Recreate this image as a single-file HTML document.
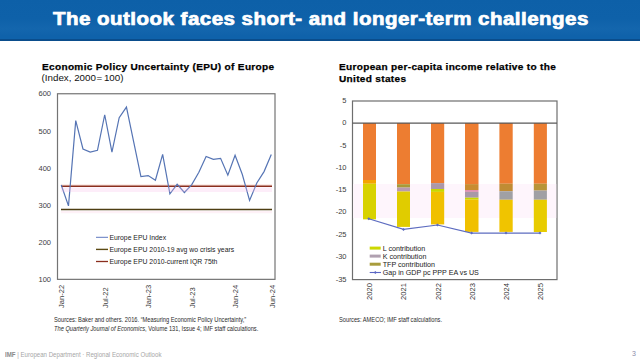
<!DOCTYPE html>
<html><head><meta charset="utf-8">
<style>
html,body{margin:0;padding:0;background:#fff;}
body{width:640px;height:360px;position:relative;overflow:hidden;font-family:"Liberation Sans",sans-serif;}
.hdr{position:absolute;left:0;top:0;width:640px;height:41.4px;background:linear-gradient(180deg,#0d60a8 0%,#0e61a9 45%,#1466ad 70%,#0f62aa 88%);}
.hdrline{position:absolute;left:0;top:39.4px;width:640px;height:2px;background:#0a4d8c;}
.ttl{position:absolute;left:52.7px;top:6.2px;color:#fff;font-weight:bold;font-size:18px;line-height:26px;white-space:nowrap;transform-origin:0 0;transform:scaleX(1.14);letter-spacing:0.41px;-webkit-text-stroke:0.7px #fff;}
.t{position:absolute;white-space:nowrap;color:#000;}
.ct{font-weight:bold;font-size:9.5px;letter-spacing:0.3px;line-height:12px;transform:scaleX(1.06);transform-origin:0 0;-webkit-text-stroke:0.25px #000;}
svg{position:absolute;left:0;top:0;}
</style></head><body>
<div class="hdr"></div>
<div class="hdrline"></div>
<div class="ttl" id="ttl">The outlook faces short- and longer-term challenges</div>

<div class="t ct" style="left:42px;top:61px;">Economic Policy Uncertainty (EPU) of Europe</div>
<div class="t" style="left:41.5px;top:72.4px;font-size:9.8px;line-height:12px;color:#111;">(Index, 2000<span style="margin:0 1.6px 0 0.6px">=</span>100)</div>

<div class="t ct" style="left:338.5px;top:61px;">European per-capita income relative to the</div>
<div class="t ct" style="left:338.5px;top:73px;">United states</div>

<svg width="640" height="360" viewBox="0 0 640 360" font-family="Liberation Sans">
  <!-- LEFT CHART -->
  <rect x="57.5" y="93.75" width="217.5" height="185.6" fill="none" stroke="#747474" stroke-width="1.2"/>
  <g font-size="7.5" fill="#404040" text-anchor="end">
    <text x="51" y="96.2">600</text>
    <text x="51" y="133.6">500</text>
    <text x="51" y="170.7">400</text>
    <text x="51" y="207.8">300</text>
    <text x="51" y="245">200</text>
    <text x="51" y="282">100</text>
  </g>
  <line x1="61" y1="185" x2="272" y2="185" stroke="#f8d0c8" stroke-width="0.8"/>
  <line x1="61" y1="209.5" x2="272" y2="209.5" stroke="#4e3e12" stroke-width="1.4"/>
  <line x1="61" y1="186.2" x2="272" y2="186.2" stroke="#8a2e1e" stroke-width="1.4"/>
  <polyline fill="none" stroke="#5574b4" stroke-width="1.2" stroke-linejoin="miter" points="61.25,185 68.49,205.9 75.74,120.6 82.98,149 90.22,152.1 97.47,150.25 104.71,114.75 111.95,152.1 119.19,117.7 126.44,107.1 133.68,141.8 140.92,176.5 148.17,175.6 155.41,180.25 162.65,154.4 169.90,193.75 177.14,184.3 184.38,192.5 191.62,184.8 198.87,172.2 206.11,156.5 213.35,159.4 220.60,158.3 227.84,175.2 235.08,155.2 242.33,174.5 249.57,200.5 256.81,183 264.05,171.6 271.30,154.6"/>
  <rect x="61" y="187.4" width="211" height="4.6" fill="#f8c0e8" fill-opacity="0.28"/>
  <rect x="61" y="211" width="211" height="2.2" fill="#fbd8e8" fill-opacity="0.35"/>
  <!-- legend -->
  <line x1="96" y1="237.3" x2="108" y2="237.3" stroke="#6078c0" stroke-width="1"/>
  <line x1="96" y1="249.4" x2="108" y2="249.4" stroke="#5c4a14" stroke-width="1.4"/>
  <line x1="96" y1="261.5" x2="108" y2="261.5" stroke="#8a2e1e" stroke-width="1.3"/>
  <g font-size="6.85" fill="#222">
    <text x="109.4" y="239.8">Europe EPU Index</text>
    <text x="109.4" y="251.9">Europe EPU 2010-19 avg wo crisis years</text>
    <text x="109.4" y="264">Europe EPU 2010-current IQR 75th</text>
  </g>
  <g font-size="7.6" fill="#404040">
    <text transform="translate(64.2,308) rotate(-90)">Jan-22</text>
    <text transform="translate(107.7,308) rotate(-90)">Jul-22</text>
    <text transform="translate(151.1,308) rotate(-90)">Jan-23</text>
    <text transform="translate(194.6,308) rotate(-90)">Jul-23</text>
    <text transform="translate(238.1,308) rotate(-90)">Jan-24</text>
    <text transform="translate(275.3,308) rotate(-90)">Jun-24</text>
  </g>

  <!-- RIGHT CHART -->
  <rect x="352.5" y="101" width="204.5" height="178.6" fill="none" stroke="#6e6e6e" stroke-width="1.2"/>
  <g font-size="7.5" fill="#404040" text-anchor="end">
    <text x="346.5" y="103.0">5</text>
    <text x="346.5" y="125.2">0</text>
    <text x="346.5" y="147.8">-5</text>
    <text x="346.5" y="169.8">-10</text>
    <text x="346.5" y="191.7">-15</text>
    <text x="346.5" y="214.4">-20</text>
    <text x="346.5" y="236.7">-25</text>
    <text x="346.5" y="259.4">-30</text>
    <text x="346.5" y="281.6">-35</text>
  </g>
  <rect x="353.2" y="184" width="203" height="34" fill="#fef5fc"/>
  <!-- bars -->
  <g>
    <!-- 2020 -->
    <rect x="363" y="123" width="13" height="57" fill="#ed7d31"/>
    <rect x="363" y="180" width="13" height="3.75" fill="#f5a400"/>
    <rect x="363" y="183.75" width="13" height="35.6" fill="#d8d200"/>
    <!-- 2021 -->
    <rect x="397" y="123" width="13" height="61.2" fill="#ed7d31"/>
    <rect x="397" y="184.2" width="13" height="3.4" fill="#a89a38"/>
    <rect x="397" y="187.6" width="13" height="3.9" fill="#b89ab0"/>
    <rect x="397" y="191.5" width="13" height="35.4" fill="#e0cc00"/>
    <!-- 2022 -->
    <rect x="431" y="123" width="13.2" height="60.1" fill="#ed7d31"/>
    <rect x="431" y="183.1" width="13.2" height="5.9" fill="#ac98a8"/>
    <rect x="431" y="189" width="13.2" height="2.9" fill="#c8d800"/>
    <rect x="431" y="191.9" width="13.2" height="32.5" fill="#f0c000"/>
    <!-- 2023 -->
    <rect x="465" y="123" width="13.5" height="61.1" fill="#ed7d31"/>
    <rect x="465" y="184.1" width="13.5" height="5.9" fill="#c88c30"/>
    <rect x="465" y="190" width="13.5" height="1.9" fill="#e090b0"/>
    <rect x="465" y="191.9" width="13.5" height="5.8" fill="#a898a8"/>
    <rect x="465" y="197.7" width="13.5" height="2" fill="#c8d800"/>
    <rect x="465" y="199.7" width="13.5" height="32.2" fill="#f0c000"/>
    <!-- 2024 -->
    <rect x="499.4" y="123" width="13.3" height="60.75" fill="#ed7d31"/>
    <rect x="499.4" y="183.75" width="13.3" height="7.5" fill="#c08c34"/>
    <rect x="499.4" y="191.25" width="13.3" height="8.5" fill="#a0a0a4"/>
    <rect x="499.4" y="199.75" width="13.3" height="32.15" fill="#f0c400"/>
    <!-- 2025 -->
    <rect x="533.8" y="123" width="13.1" height="60.75" fill="#ed7d31"/>
    <rect x="533.8" y="183.75" width="13.1" height="6.85" fill="#b89438"/>
    <rect x="533.8" y="190.6" width="13.1" height="9.15" fill="#a0a0a4"/>
    <rect x="533.8" y="199.75" width="13.1" height="32.25" fill="#e8cc00"/>
  </g>
  <line x1="352.5" y1="123.1" x2="557" y2="123.1" stroke="#595959" stroke-width="1.1"/>
  <polyline fill="none" stroke="#5d6cc0" stroke-width="1.2" points="368.75,218.75 403.5,229.4 437.5,225 471.6,233.1 506,233.1 540,233.1"/>
  <g fill="#5d6cc0">
    <path d="M368.75,217.25 L370.25,218.75 L368.75,220.25 L367.25,218.75Z"/>
    <path d="M403.5,227.90 L405.00,229.4 L403.5,230.90 L402.00,229.4Z"/>
    <path d="M437.5,223.50 L439.00,225.0 L437.5,226.50 L436.00,225.0Z"/>
    <path d="M471.6,231.60 L473.10,233.1 L471.6,234.60 L470.10,233.1Z"/>
    <path d="M506.0,231.60 L507.50,233.1 L506.0,234.60 L504.50,233.1Z"/>
    <path d="M540.0,231.60 L541.50,233.1 L540.0,234.60 L538.50,233.1Z"/>
  </g>
  <!-- legend -->
  <rect x="369.7" y="246.6" width="11" height="3" fill="#ccd800"/>
  <rect x="369.7" y="254.6" width="11" height="3" fill="#b0a0b0"/>
  <rect x="369.7" y="262.7" width="11" height="3" fill="#a89c3c"/>
  <line x1="369.7" y1="272.5" x2="381" y2="272.5" stroke="#5a66c4" stroke-width="1.1"/>
  <path d="M375.3,271 L376.8,272.5 L375.3,274 L373.8,272.5Z" fill="#5a66c4"/>
  <g font-size="7.15" fill="#222">
    <text x="382.7" y="250.6">L contribution</text>
    <text x="382.7" y="258.7">K contribution</text>
    <text x="382.7" y="266.8">TFP contribution</text>
    <text x="382.7" y="274.9">Gap in GDP pc PPP EA vs US</text>
  </g>
  <g font-size="7.6" fill="#333">
    <text transform="translate(372.3,300) rotate(-90)">2020</text>
    <text transform="translate(406.4,300) rotate(-90)">2021</text>
    <text transform="translate(440.5,300) rotate(-90)">2022</text>
    <text transform="translate(474.5,300) rotate(-90)">2023</text>
    <text transform="translate(508.6,300) rotate(-90)">2024</text>
    <text transform="translate(542.7,300) rotate(-90)">2025</text>
  </g>
</svg>

<div class="t" style="left:54px;top:316.4px;font-size:7.6px;line-height:8.2px;transform:scaleX(0.752);transform-origin:0 0;color:#2a2a2a;">Sources: Baker and others. 2016. “Measuring Economic Policy Uncertainty,”<br><i>The Quarterly Journal of Economics</i>, Volume 131, Issue 4; IMF staff calculations.</div>
<div class="t" style="left:339px;top:316.4px;font-size:7.6px;line-height:8.2px;transform:scaleX(0.752);transform-origin:0 0;color:#2a2a2a;">Sources: AMECO; IMF staff calculations.</div>

<div class="t" style="left:5px;top:350.5px;font-size:6.5px;line-height:8px;color:#a6a6a6;transform:scaleX(0.94);transform-origin:0 0;"><b style="color:#8a8a8a">IMF</b>&nbsp;| European Department · Regional Economic Outlook</div>
<div class="t" style="left:632px;top:349px;font-size:7px;line-height:9px;color:#8a8aaa;">3</div>
</body></html>
